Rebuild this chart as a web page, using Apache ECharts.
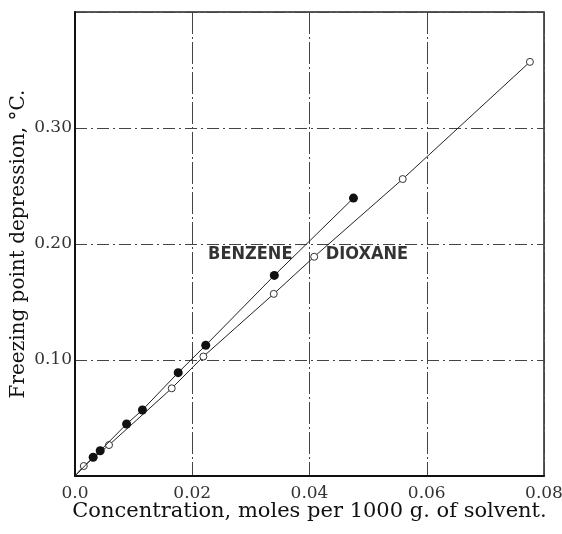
<!DOCTYPE html>
<html>
<head>
<meta charset="utf-8">
<script src="https://cdn.jsdelivr.net/npm/echarts@6/dist/echarts.min.js"></script>
<style>
  html, body { margin: 0; padding: 0; background: #fff; }
  #chart { width: 562px; height: 534px; }
</style>
</head>
<body>
<div id="chart"></div>
<script>
// values (x: moles / 1000 g, y: deg C)
var benzeneX = [0, 0.0031, 0.0043, 0.0088, 0.0115, 0.0176, 0.0223, 0.0340, 0.0475];
var benzeneY = [0, 0.0162, 0.0218, 0.0448, 0.0569, 0.0891, 0.1127, 0.1729, 0.2396];
var dioxaneX = [0, 0.0015, 0.0058, 0.0165, 0.0219, 0.0339, 0.0408, 0.0559, 0.0776];
var dioxaneY = [0, 0.0086, 0.0267, 0.0756, 0.1030, 0.1570, 0.1890, 0.2560, 0.3570];

var xTicks = [0, 0.02, 0.04, 0.06, 0.08];
var xTickLabels = ['0.0', '0.02', '0.04', '0.06', '0.08'];
var yTicks = [0, 0.1, 0.2, 0.3, 0.4];
var yTickLabels = ['', '0.10', '0.20', '0.30', ''];

var labelNames = ['BENZENE', 'DIOXANE'];
var labelX = [0.0299, 0.0498];
var labelY = [0.1914, 0.1914];

function pairs(xs, ys) {
    return xs.map(function (x, i) {
        // the origin is where the line starts, no marker there
        if (i === 0) return { value: [x, ys[i]], symbol: 'none' };
        return [x, ys[i]];
    });
}

function tickText(ticks, labels) {
    return function (v) {
        for (var i = 0; i < ticks.length; i++) {
            if (Math.abs(ticks[i] - v) < 1e-9) return labels[i];
        }
        return '';
    };
}

var serif = 'DejaVu Serif';

var myChart = echarts.init(document.getElementById('chart'), null, { renderer: 'canvas' });

var option = {
    animation: false,
    backgroundColor: '#fff',
    grid: {
        left: 75, right: 18, top: 12, bottom: 58,
        outerBoundsMode: 'none',
        containLabel: false,
        show: true, borderColor: '#222', borderWidth: 1.5
    },
    xAxis: {
        type: 'value',
        min: 0, max: 0.08, interval: 0.02,
        name: 'Concentration, moles per 1000 g. of solvent.',
        nameLocation: 'middle',
        nameGap: 25,
        nameMoveOverlap: false,
        nameTextStyle: { fontFamily: serif, fontSize: 21, color: '#111', verticalAlign: 'top' },
        axisLine: { show: true, lineStyle: { color: '#111', width: 2 } },
        axisTick: { show: false },
        axisLabel: {
            formatter: tickText(xTicks, xTickLabels),
            fontFamily: serif, fontSize: 17, color: '#333', margin: 9,
            showMaxLabel: true, showMinLabel: true
        },
        splitLine: { show: true, lineStyle: { color: '#444', width: 1, type: [22, 3, 2, 3] } }
    },
    yAxis: {
        type: 'value',
        min: 0, max: 0.4, interval: 0.1,
        name: 'Freezing point depression, \u00b0C.',
        nameLocation: 'middle',
        nameGap: 46,
        nameMoveOverlap: false,
        nameRotate: 90,
        nameTextStyle: { fontFamily: serif, fontSize: 20, color: '#111' },
        axisLine: { show: true, lineStyle: { color: '#111', width: 2 } },
        axisTick: { show: false },
        axisLabel: {
            formatter: tickText(yTicks, yTickLabels),
            fontFamily: serif, fontSize: 17, color: '#333', margin: 3
        },
        splitLine: { show: true, lineStyle: { color: '#444', width: 1, type: [12, 4, 2, 4] } }
    },
    series: [
        {
            name: 'Benzene',
            type: 'line',
            data: pairs(benzeneX, benzeneY),
            symbol: 'circle',
            symbolSize: 9,
            showAllSymbol: true,
            itemStyle: { color: '#111', borderColor: '#111', borderWidth: 0 },
            lineStyle: { color: '#222', width: 1 },
            z: 3
        },
        {
            name: 'Dioxane',
            type: 'line',
            data: pairs(dioxaneX, dioxaneY),
            symbol: 'circle',
            symbolSize: 7,
            showAllSymbol: true,
            itemStyle: { color: '#fff', borderColor: '#333', borderWidth: 1 },
            lineStyle: { color: '#222', width: 1 },
            z: 2
        },
        {
            type: 'scatter',
            data: labelNames.map(function (n, i) { return { name: n, value: [labelX[i], labelY[i]] }; }),
            symbolSize: 0,
            silent: true,
            label: {
                show: true,
                position: 'inside',
                formatter: '{b}',
                fontFamily: '"DejaVu Sans Condensed", "DejaVu Sans", sans-serif',
                fontWeight: 'bold',
                fontSize: 18,
                color: '#000',
                textBorderWidth: 0
            },
            z: 4
        }
    ]
};

myChart.setOption(option);
</script>
</body>
</html>
